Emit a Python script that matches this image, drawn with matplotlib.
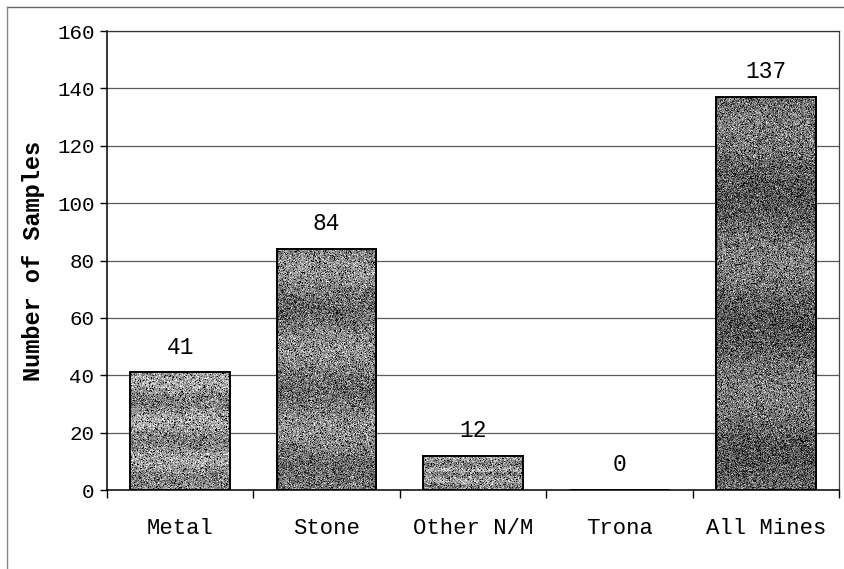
import numpy as np
import matplotlib.pyplot as plt
from matplotlib.lines import Line2D

categories = ["Metal", "Stone", "Other N/M", "Trona", "All Mines"]
samples = [41, 84, 12, 0, 137]
y_ticks = [0, 20, 40, 60, 80, 100, 120, 140, 160]

# base gray of each bar before the speckle is added
bar_grays = [0.58, 0.50, 0.58, 0.5, 0.42]

plt.rcParams["font.family"] = ["Liberation Mono", "DejaVu Sans Mono"]

fig = plt.figure(figsize=(8.45, 5.69), dpi=100)
ax = fig.add_axes([0.1266, 0.1388, 0.8663, 0.8067])

x = np.arange(len(categories))
bars = ax.bar(x, samples, width=0.68, facecolor="none", edgecolor="black",
              linewidth=1.4, zorder=3)

# speckled gray fill, clipped to each bar
rng = np.random.default_rng(3)
for bar, g in zip(bars, bar_grays):
    h = bar.get_height()
    if h <= 0:
        continue
    rows = max(int(h * 3), 4)
    band = g + 0.08 * np.sin(np.linspace(0, 6 * np.pi, rows))[:, None]
    tex = band + rng.normal(0, 0.17, (rows, 100))
    dots = rng.random((rows, 100)) < 0.06
    tex[dots] = 0.05
    tex = np.clip(tex, 0, 1)
    img = ax.imshow(tex, cmap="gray", vmin=0, vmax=1, aspect="auto",
                    extent=[bar.get_x(), bar.get_x() + bar.get_width(), 0, h],
                    interpolation="nearest", zorder=2)
    img.set_clip_path(bar)

for xi, v in zip(x, samples):
    ax.annotate(str(v), (xi, v), xytext=(0, 10), textcoords="offset points",
                ha="center", va="bottom", fontsize=16.5)

ax.set_xlim(-0.5, len(categories) - 0.5)
ax.set_ylim(0, 160)
ax.set_yticks(y_ticks)
ax.tick_params(axis="y", labelsize=15, length=5, width=1, pad=4)
ax.set_xticks(x)
ax.set_xticklabels(categories, fontsize=16)
ax.tick_params(axis="x", length=0, pad=20)
ax.set_xticks(np.arange(len(categories) + 1) - 0.5, minor=True)
ax.tick_params(axis="x", which="minor", length=6, width=1)

ax.yaxis.grid(True, color="#5a5a5a", linewidth=0.9)
ax.set_axisbelow(True)

ax.spines["left"].set_color("black")
ax.spines["bottom"].set_color("black")
ax.spines["left"].set_linewidth(1.1)
ax.spines["bottom"].set_linewidth(1.1)
ax.spines["top"].set_color("#333333")
ax.spines["right"].set_color("#444444")
ax.spines["top"].set_linewidth(0.9)
ax.spines["right"].set_linewidth(0.9)

ax.set_ylabel("Number of Samples", fontsize=17, fontweight="bold")
ax.yaxis.set_label_coords(-0.084, 0.5)

# outer chart border (top and left edges)
fig.add_artist(Line2D([0.0083, 1.0], [0.9877, 0.9877], color="#666666",
                      linewidth=1.0, transform=fig.transFigure))
fig.add_artist(Line2D([0.0083, 0.0083], [0.0, 0.9877], color="#888888",
                      linewidth=1.0, transform=fig.transFigure))

fig.savefig("out.png", dpi=100)
